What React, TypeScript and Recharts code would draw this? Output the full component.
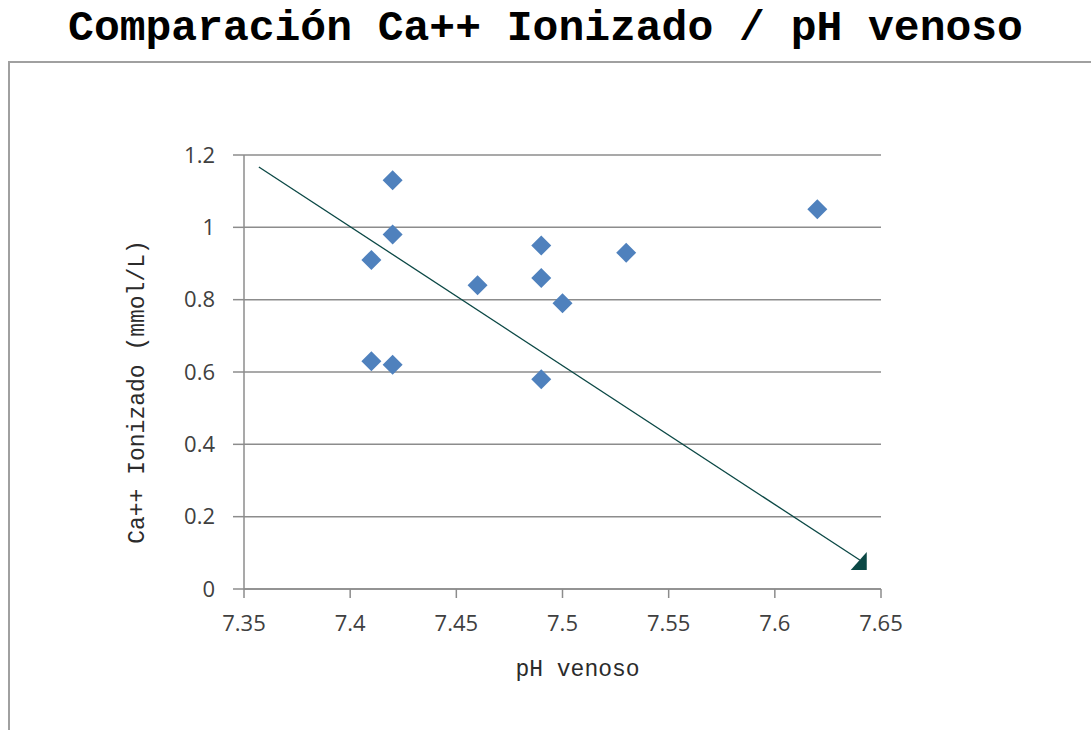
import React from 'react';
import { CartesianGrid, Label, Scatter, ScatterChart, XAxis, YAxis } from 'recharts';

// pH venoso vs Ca++ ionizado
const phValues = [7.41, 7.41, 7.42, 7.42, 7.42, 7.46, 7.49, 7.49, 7.49, 7.5, 7.53, 7.62];
const caValues = [0.91, 0.63, 1.13, 0.98, 0.62, 0.84, 0.95, 0.86, 0.58, 0.79, 0.93, 1.05];

// trend line end points (x, y)
const trendPh = [7.357, 7.64];
const trendCa = [1.167, 0.08];

const xTicks = [7.35, 7.4, 7.45, 7.5, 7.55, 7.6, 7.65];
const yTicks = [0, 0.2, 0.4, 0.6, 0.8, 1, 1.2];

const points = phValues.map((ph, i) => ({ x: ph, y: caValues[i] }));
const trend = trendPh.map((ph, i) => ({ x: ph, y: trendCa[i] }));

const gridColor = '#8c8c8c';
const tickStyle = { fontFamily: '"Open Sans", sans-serif', fontSize: 22, fill: '#404040' };
const monoFont = '"Liberation Mono", "Courier New", monospace';

function Diamond(props: any) {
  const { cx, cy } = props;
  const r = 10;
  return (
    <polygon
      points={`${cx},${cy - r} ${cx + r},${cy} ${cx},${cy + r} ${cx - r},${cy}`}
      fill="#4f81bd"
    />
  );
}

function TrendEnd(props: any) {
  const { cx, cy, payload } = props;
  if (payload.x !== trendPh[trendPh.length - 1]) return <g />;
  return (
    <polygon
      points={`${cx - 9},${cy + 10} ${cx + 7},${cy - 8} ${cx + 7},${cy + 10}`}
      fill="#0b4845"
    />
  );
}

export default function App() {
  return (
    <div style={{ position: 'absolute', left: 0, top: 0, width: 1091, height: 730, background: '#fff', overflow: 'hidden' }}>
      <div
        style={{
          position: 'absolute',
          left: 0,
          top: 7,
          width: 1091,
          textAlign: 'center',
          fontFamily: monoFont,
          fontWeight: 'bold',
          fontSize: 43,
          lineHeight: '43px',
          color: '#000',
        }}
      >
        Comparación Ca++ Ionizado / pH venoso
      </div>
      <div
        style={{
          position: 'absolute',
          left: 8,
          top: 61,
          width: 1200,
          height: 800,
          borderTop: '2px solid #a0a0a0',
          borderLeft: '2px solid #a0a0a0',
        }}
      />
      <div style={{ position: 'absolute', left: 0, top: 0 }}>
        <ScatterChart
          width={1091}
          height={730}
          margin={{ top: 155, right: 210, bottom: 81, left: 184 }}
        >
          <CartesianGrid vertical={false} stroke={gridColor} strokeWidth={1.5} />
          <XAxis
            type="number"
            dataKey="x"
            domain={[7.35, 7.65]}
            ticks={xTicks}
            interval={0}
            height={60}
            tickSize={9}
            tickMargin={17}
            tick={tickStyle}
            stroke={gridColor}
            strokeWidth={1.5}
          >
            <Label
              content={({ viewBox }: any) => (
                <text
                  x={viewBox.x + viewBox.width / 2 + 15}
                  y={viewBox.y + 87}
                  textAnchor="middle"
                  style={{ fontFamily: monoFont, fontSize: 23, fill: '#2b2b2b' }}
                >
                  pH venoso
                </text>
              )}
            />
          </XAxis>
          <YAxis
            type="number"
            dataKey="y"
            domain={[0, 1.2]}
            ticks={yTicks}
            interval={0}
            width={60}
            tickSize={11}
            tickMargin={18}
            tick={tickStyle}
            stroke={gridColor}
            strokeWidth={1.5}
          >
            <Label
              content={({ viewBox }: any) => {
                const x = viewBox.x - 46;
                const y = viewBox.y + viewBox.height / 2 + 20;
                return (
                  <text
                    x={x}
                    y={y}
                    textAnchor="middle"
                    dominantBaseline="central"
                    transform={`rotate(-90 ${x} ${y})`}
                    style={{ fontFamily: monoFont, fontSize: 23, fill: '#2b2b2b' }}
                  >
                    Ca++ Ionizado (mmol/L)
                  </text>
                );
              }}
            />
          </YAxis>
          <Scatter
            data={trend}
            line={{ stroke: '#0b4845', strokeWidth: 1.3 }}
            shape={TrendEnd}
            isAnimationActive={false}
          />
          <Scatter data={points} shape={Diamond} isAnimationActive={false} />
        </ScatterChart>
      </div>
    </div>
  );
}
